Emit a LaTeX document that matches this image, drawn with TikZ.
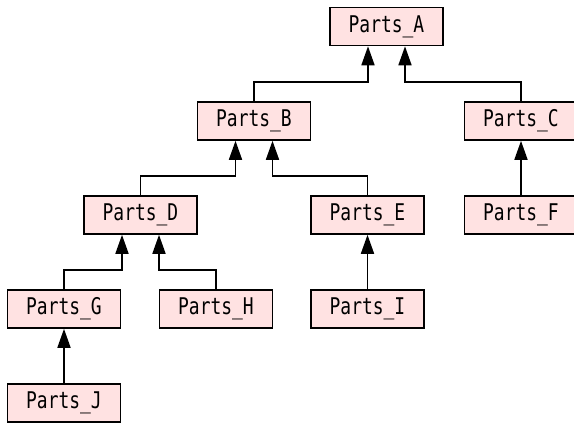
\documentclass[tikz,border=0pt]{standalone}
\usepackage{fontspec}
\newfontfamily\partsfont[FakeStretch=0.78]{DejaVu Sans Mono}
\usetikzlibrary{arrows.meta}
\definecolor{boxfill}{RGB}{255,226,226}
\tikzset{
  part/.style={draw=black, line width=1.6pt, fill=boxfill, minimum width=113pt, minimum height=38pt, inner sep=0pt, font=\partsfont\fontsize{23}{23}\selectfont},
  conn/.style={draw=black, line width=1.7pt, -{Triangle[width=13pt,length=19pt]}}
}
\begin{document}
\begin{tikzpicture}[x=1pt,y=-1pt]
\useasboundingbox (0,0) rectangle (574,426);
\node[part] (A) at (386.5,26.5) {Parts\_A};
\node[part] (B) at (254,121) {Parts\_B};
\node[part] (C) at (521,121) {Parts\_C};
\node[part] (D) at (140.5,215) {Parts\_D};
\node[part] (E) at (367.5,215) {Parts\_E};
\node[part] (F) at (521,215) {Parts\_F};
\node[part] (G) at (64,309) {Parts\_G};
\node[part] (H) at (216,309) {Parts\_H};
\node[part] (I) at (367.5,309) {Parts\_I};
\node[part] (J) at (64,403) {Parts\_J};
\draw[conn] (B.north) -- ++(0,-19) -| ([xshift=-18.5pt]A.south);
\draw[conn] (C.north) -- ++(0,-19) -| ([xshift=18.5pt]A.south);
\draw[conn] (D.north) -- ++(0,-19) -| ([xshift=-18.5pt]B.south);
\draw[conn] (E.north) -- ++(0,-19) -| ([xshift=18.5pt]B.south);
\draw[conn] (F.north) -- (C.south);
\draw[conn] (G.north) -- ++(0,-19) -| ([xshift=-18.5pt]D.south);
\draw[conn] (H.north) -- ++(0,-19) -| ([xshift=18.5pt]D.south);
\draw[conn] (I.north) -- (E.south);
\draw[conn] (J.north) -- (G.south);
\end{tikzpicture}
\end{document}
